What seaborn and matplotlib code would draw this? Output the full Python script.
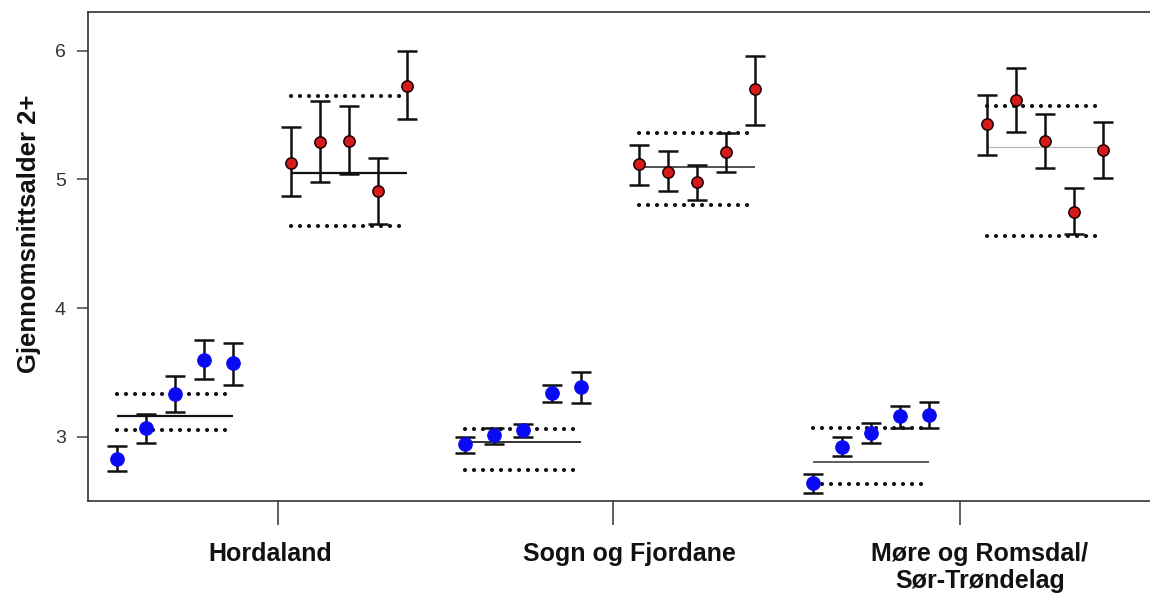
import numpy as np
import pandas as pd
import matplotlib
matplotlib.use("Agg")
import matplotlib.pyplot as plt
import seaborn as sns

# ---- data -------------------------------------------------------------
regions = ["Hordaland", "Sogn og Fjordane", "Møre og Romsdal/\nSør-Trøndelag"]
series_names = ["2+ (blå)", "2+ (rød)"]

# mean age of 2+ fish per year with lower/upper confidence limits
hord_blue = [2.83, 3.07, 3.33, 3.60, 3.57]
hord_blue_lo = [2.73, 2.95, 3.19, 3.45, 3.40]
hord_blue_hi = [2.93, 3.18, 3.47, 3.75, 3.73]

hord_red = [5.13, 5.29, 5.30, 4.91, 5.73]
hord_red_lo = [4.87, 4.98, 5.04, 4.65, 5.47]
hord_red_hi = [5.41, 5.61, 5.57, 5.17, 6.00]

sogn_blue = [2.94, 3.01, 3.05, 3.34, 3.39]
sogn_blue_lo = [2.87, 2.94, 3.00, 3.27, 3.26]
sogn_blue_hi = [3.00, 3.07, 3.10, 3.40, 3.50]

sogn_red = [5.12, 5.06, 4.98, 5.21, 5.70]
sogn_red_lo = [4.96, 4.91, 4.84, 5.06, 5.42]
sogn_red_hi = [5.27, 5.22, 5.11, 5.36, 5.96]

more_blue = [2.64, 2.92, 3.03, 3.16, 3.17]
more_blue_lo = [2.56, 2.85, 2.95, 3.07, 3.07]
more_blue_hi = [2.71, 3.00, 3.11, 3.24, 3.27]

more_red = [5.43, 5.62, 5.30, 4.75, 5.23]
more_red_lo = [5.19, 5.37, 5.09, 4.58, 5.01]
more_red_hi = [5.66, 5.87, 5.51, 4.93, 5.45]

# long-term mean (solid) and reference limits (dotted) per region/series
blue_mean = [3.16, 2.96, 2.80]
blue_upper = [3.33, 3.06, 3.07]
blue_lower = [3.05, 2.74, 2.63]
red_mean = [5.05, 5.10, 5.25]
red_upper = [5.65, 5.36, 5.57]
red_lower = [4.64, 4.80, 4.56]

# ---- layout -----------------------------------------------------------
blue_vals = [hord_blue, sogn_blue, more_blue]
blue_los = [hord_blue_lo, sogn_blue_lo, more_blue_lo]
blue_his = [hord_blue_hi, sogn_blue_hi, more_blue_hi]
red_vals = [hord_red, sogn_red, more_red]
red_los = [hord_red_lo, sogn_red_lo, more_red_lo]
red_his = [hord_red_hi, sogn_red_hi, more_red_hi]

group_step = 12
rows = []
for g, region in enumerate(regions):
    for k in range(5):
        rows.append(dict(region=region, series=series_names[0],
                         pos=g * group_step + 1 + k,
                         age=blue_vals[g][k], lo=blue_los[g][k], hi=blue_his[g][k]))
        rows.append(dict(region=region, series=series_names[1],
                         pos=g * group_step + 7 + k,
                         age=red_vals[g][k], lo=red_los[g][k], hi=red_his[g][k]))
df = pd.DataFrame(rows)

tick_pos = [6.54, 18.10, 30.07]
label_pos = [6.28, 18.67, 30.76]

# ---- style ------------------------------------------------------------
sns.set_style("white")
plt.rcParams["font.family"] = ["Liberation Sans", "DejaVu Sans"]

W, H = 1150, 594
fig = plt.figure(figsize=(W / 100, H / 100), dpi=100)
ax = fig.add_axes([88 / W, (H - 501) / H, (W - 88) / W, (501 - 12.3) / H])

blue_c = "#0a0af2"
red_c = "#d61a1a"

# error bars
ax.errorbar(df["pos"], df["age"],
            yerr=[df["age"] - df["lo"], df["hi"] - df["age"]],
            fmt="none", ecolor="#111111", elinewidth=1.8,
            capsize=7.5, capthick=1.8, zorder=2)

# reference lines
line_styles = {
    0: dict(blue=("#111111", 1.6), red=("#111111", 1.6)),
    1: dict(blue=("#111111", 1.2), red=("#222222", 1.1)),
    2: dict(blue=("#333333", 1.1), red=("#b8b8b8", 0.9)),
}
for g in range(3):
    bx0, bx1 = g * group_step + 1, g * group_step + 5
    rx0, rx1 = g * group_step + 7, g * group_step + 11
    bc, bw = line_styles[g]["blue"]
    rc, rw = line_styles[g]["red"]
    ax.hlines(blue_mean[g], bx0, bx1, colors=bc, linewidth=bw, zorder=1)
    ax.hlines(red_mean[g], rx0, rx1, colors=rc, linewidth=rw, zorder=1)
    for yv, x0, x1 in [(blue_upper[g], bx0, bx1), (blue_lower[g], bx0, bx1),
                       (red_upper[g], rx0, rx1), (red_lower[g], rx0, rx1)]:
        ax.plot([x0, x1 - 0.1], [yv, yv], color="#111111", linewidth=3.0,
                linestyle=(0, (0.01, 2.15)), dash_capstyle="round", zorder=1)

# points
sns.scatterplot(data=df[df["series"] == series_names[0]], x="pos", y="age",
                color=blue_c, edgecolor=blue_c, linewidth=0.8, s=95,
                ax=ax, zorder=3, legend=False)
sns.scatterplot(data=df[df["series"] == series_names[1]], x="pos", y="age",
                color=red_c, edgecolor="#1a0000", linewidth=1.1, s=66,
                ax=ax, zorder=3, legend=False)

# axes
ax.set_xlim(0, 36.62)
ax.set_ylim(2.50, 6.30)
ax.set_yticks([3, 4, 5, 6])
ax.set_yticklabels(["3", "4", "5", "6"], fontsize=14, color="#333333")
ax.set_xticks(tick_pos)
ax.set_xticklabels([])
ax.set_xticks(label_pos, minor=True)
ax.set_xticklabels(regions, minor=True, fontsize=18, fontweight="bold",
                   color="#111111")
for lbl in ax.get_xticklabels(minor=True):
    lbl.set_linespacing(1.15)
ax.tick_params(axis="x", which="major", length=17, width=1.2,
               color="#444444", direction="out", bottom=True)
ax.tick_params(axis="x", which="minor", length=0, pad=29.5, bottom=True)
ax.tick_params(axis="y", length=8, width=1.1, color="#444444",
               direction="out", pad=8, left=True)
ax.set_xlabel("")
ax.set_ylabel("")

for side in ["left", "top", "bottom"]:
    ax.spines[side].set_color("#333333")
    ax.spines[side].set_linewidth(1.2)
ax.spines["right"].set_visible(False)

fig.text(29 / W, 1 - 234 / H, "Gjennomsnittsalder 2+", rotation=90,
         ha="center", va="center", fontsize=18.5, fontweight="bold",
         color="#111111")

fig.savefig("out.png", dpi=100)
